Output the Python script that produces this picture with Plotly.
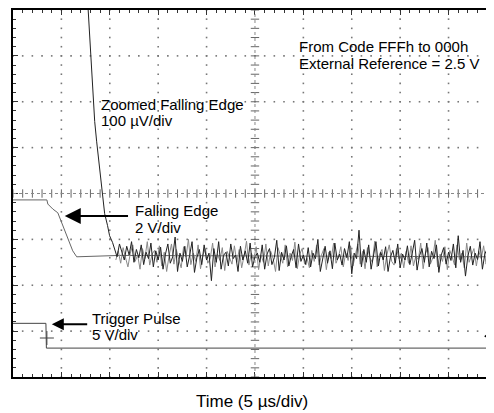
import numpy as np
import plotly.graph_objects as go

# ---------------- data (x in microseconds, y in screen divisions) ----------------
trigger_t = [0.0, 3.40, 3.45, 49.5]
trigger_v = [1.17, 1.17, 0.63, 0.63]

edge_t = [0.0, 3.50, 3.60, 4.12, 4.63, 6.17, 6.58, 11.0, 49.5]
edge_v = [3.86, 3.86, 3.77, 3.66, 3.58, 2.75, 2.62, 2.65, 2.62]

zoom_edge_t = [7.72, 8.44, 8.64, 8.95, 9.16, 9.47, 9.77, 9.98, 10.29]
zoom_edge_v = [8.17, 5.57, 5.14, 4.49, 4.05, 3.56, 3.30, 3.08, 2.93]

noise_start = 10.5
noise_end = 49.5
noise_v = [
    2.80, 2.62, 2.90, 2.70, 2.55, 2.85, 2.66, 2.95, 2.50, 2.78, 2.60, 2.88, 2.45, 2.72, 2.58, 2.92, 2.40, 2.75, 2.55, 2.83,
    2.35, 2.68, 2.90, 2.48, 2.62, 3.05, 2.30, 2.70, 2.52, 2.85, 2.40, 2.65, 2.95, 2.28, 2.60, 2.78, 2.45, 2.88, 2.55, 2.70,
    2.10, 2.80, 2.50, 2.95, 2.35, 2.65, 2.72, 2.42, 2.90, 2.58, 2.66, 2.30, 2.85, 2.55, 2.75, 2.48, 2.92, 2.40, 2.62, 2.70,
    2.50, 2.88, 2.35, 2.68, 2.80, 2.45, 2.60, 2.98, 2.32, 2.72, 2.55, 2.86, 2.42, 2.64, 2.78, 2.38, 2.90, 2.52, 2.66, 2.45,
    2.82, 2.40, 2.70, 2.58, 3.00, 2.30, 2.62, 2.85, 2.48, 2.75, 2.36, 2.92, 2.55, 2.68, 2.44, 2.80, 2.60, 2.95, 2.25, 2.70,
    2.58, 3.20, 2.40, 2.78, 2.50, 2.88, 2.35, 2.66, 2.95, 2.42, 2.72, 2.55, 2.84, 2.30, 2.62, 2.76, 2.48, 2.90, 2.38, 2.68,
    2.55, 2.86, 2.45, 2.70, 2.98, 2.33, 2.64, 2.80, 2.50, 2.92, 2.40, 2.74, 2.58, 2.88, 2.28, 2.66, 2.82, 2.46, 2.72, 2.54,
    2.90, 2.38, 3.08, 2.50, 2.76, 2.20, 2.64, 2.85, 2.44, 2.70, 2.56, 2.95, 2.35, 2.68, 2.80, 2.48, 2.62,
]

gray_start = 10.625
gray_end = 49.375
gray_noise_v = [
    2.55, 2.75, 2.48, 2.82, 2.60, 2.40, 2.70, 2.88, 2.52, 2.66, 2.35, 2.80, 2.58, 2.95, 2.44, 2.68, 2.76, 2.50, 2.86, 2.42,
    2.72, 2.30, 2.64, 2.90, 2.46, 2.78, 2.56, 2.38, 2.84, 2.62, 3.00, 2.45, 2.70, 2.52, 2.88, 2.36, 2.66, 2.80, 2.48, 2.58,
    2.92, 2.40, 2.68, 2.54, 2.82, 2.32, 2.74, 2.60, 2.46, 2.86, 2.50, 2.78, 2.38, 2.64, 2.96, 2.44, 2.70, 2.56, 2.84, 2.34,
    2.66, 2.50, 2.90, 2.42, 2.74, 2.58, 2.30, 2.82, 2.62, 2.48, 2.88, 2.40, 2.70, 2.54, 2.94, 2.36, 2.68, 2.80, 2.46, 2.60,
    2.38, 2.76, 2.52, 2.88, 2.44, 2.66, 2.80, 2.34, 2.72, 2.58, 2.92, 2.48, 2.62, 2.84, 2.40, 2.70, 2.54, 2.86, 2.42, 2.64,
    2.90, 2.46, 2.74, 2.36, 2.82, 2.60, 2.50, 2.96, 2.40, 2.68, 2.78, 2.32, 2.66, 2.88, 2.52, 2.44, 2.80, 2.58, 2.70, 2.38,
    2.74, 2.48, 2.86, 2.42, 2.64, 2.56, 2.92, 2.36, 2.70, 2.82, 2.46, 2.60, 2.98, 2.40, 2.68, 2.52, 2.84, 2.34, 2.76, 2.62,
    2.44, 2.88, 2.56, 2.70, 2.38, 2.92, 2.50, 2.66, 2.80, 2.42, 2.74, 2.58, 2.86, 2.46, 2.68, 2.60,
]

trig_level_t = [49.35]
trig_level_v = [0.89]
channel_mark_t = [-0.3, -0.3]
channel_mark_v = [2.62, 0.63]
trig_cursor_t = [3.5]
trig_cursor_v = [0.85]

labels = {
    "zoom1": "Zoomed Falling Edge",
    "zoom2": "100 \u00b5V/div",
    "code1": "From Code FFFh to 000h",
    "code2": "External Reference = 2.5 V",
    "fall1": "Falling Edge",
    "fall2": "2 V/div",
    "trig1": "Trigger Pulse",
    "trig2": "5 V/div",
    "xlabel": "Time (5 \u00b5s/div)",
}

X_MAX = 49.49
Y_MAX = 8.0
FONT = "Liberation Sans, Arial, sans-serif"

fig = go.Figure()

# ---------------- graticule ----------------
gx, gy = [], []
for xv in range(5, 50, 5):
    if xv == 25:
        continue
    for j in range(0, 41):
        gx.append(xv); gy.append(j * 0.2)
for yv in range(1, 8):
    if yv == 4:
        continue
    for k in range(0, 50):
        gx.append(k); gy.append(yv)
fig.add_trace(go.Scatter(x=gx, y=gy, mode="markers", hoverinfo="skip",
                         marker=dict(symbol="square", size=1.6, color="#777", line=dict(width=0)),
                         showlegend=False))
fig.add_shape(type="line", x0=0, x1=X_MAX, y0=4, y1=4, line=dict(color="#888", width=1, dash="dot"))
fig.add_shape(type="line", x0=25, x1=25, y0=0, y1=Y_MAX, line=dict(color="#888", width=1, dash="dot"))
fig.add_trace(go.Scatter(x=list(range(0, 50)), y=[4] * 50, mode="markers", hoverinfo="skip",
                         marker=dict(symbol="line-ns-open", size=6, color="#666", line=dict(color="#666", width=1)),
                         showlegend=False))
fig.add_trace(go.Scatter(x=[25] * 41, y=[j * 0.2 for j in range(41)], mode="markers", hoverinfo="skip",
                         marker=dict(symbol="line-ew-open", size=6, color="#666", line=dict(color="#666", width=1)),
                         showlegend=False))

# ---------------- traces ----------------
fig.add_trace(go.Scatter(x=trigger_t, y=trigger_v, mode="lines",
                         line=dict(color="#444", width=1), showlegend=False))
fig.add_trace(go.Scatter(x=edge_t, y=edge_v, mode="lines",
                         line=dict(color="#666", width=1), showlegend=False))
gray_t = np.linspace(gray_start, gray_end, len(gray_noise_v))
fig.add_trace(go.Scatter(x=gray_t, y=gray_noise_v, mode="lines",
                         line=dict(color="#8a8a8a", width=1), showlegend=False))
noise_t = np.linspace(noise_start, noise_end, len(noise_v))
fig.add_trace(go.Scatter(x=zoom_edge_t + list(noise_t), y=zoom_edge_v + noise_v, mode="lines",
                         line=dict(color="#222", width=1), showlegend=False))

fig.add_trace(go.Scatter(x=trig_level_t, y=trig_level_v, mode="markers", cliponaxis=False,
                         marker=dict(symbol="triangle-left", size=13, color="black"), showlegend=False))
fig.add_trace(go.Scatter(x=channel_mark_t, y=channel_mark_v, mode="markers", cliponaxis=False,
                         marker=dict(symbol="triangle-right", size=5, color="#333"), showlegend=False))
fig.add_trace(go.Scatter(x=trig_cursor_t, y=trig_cursor_v, mode="markers",
                         marker=dict(symbol="cross-thin-open", size=10, color="#444",
                                     line=dict(color="#444", width=1)),
                         showlegend=False))

# ---------------- annotations ----------------
def txt(x, y, s, size=15):
    fig.add_annotation(x=x, y=y, xref="x", yref="y", text=s, showarrow=False,
                       xanchor="left", yanchor="middle",
                       font=dict(family=FONT, size=size, color="black"))

txt(8.85, 5.94, labels["zoom1"])
txt(8.85, 5.60, labels["zoom2"])
txt(29.3, 7.20, labels["code1"])
txt(29.3, 6.84, labels["code2"])
txt(12.35, 3.62, labels["fall1"])
txt(12.35, 3.26, labels["fall2"])
txt(7.95, 1.28, labels["trig1"])
txt(7.95, 0.92, labels["trig2"])

fig.add_annotation(x=5.35, y=3.51, ax=12.04, ay=3.51, xref="x", yref="y", axref="x", ayref="y",
                   text="", showarrow=True, arrowhead=2, arrowsize=1.6, arrowwidth=2,
                   arrowcolor="black", standoff=0)
fig.add_annotation(x=4.01, y=1.15, ax=7.82, ay=1.15, xref="x", yref="y", axref="x", ayref="y",
                   text="", showarrow=True, arrowhead=2, arrowsize=1.2, arrowwidth=2,
                   arrowcolor="black", standoff=0)

fig.add_annotation(x=24.7, y=-0.068, xref="x", yref="paper", text=labels["xlabel"], showarrow=False,
                   xanchor="center", yanchor="middle", font=dict(family=FONT, size=17, color="black"))

# ---------------- layout ----------------
# the page body has an 8px default margin, so the figure is sized to fill the window from there
fig.update_layout(
    width=486, height=405,
    margin=dict(l=5, r=0, t=0, b=36),
    paper_bgcolor="white", plot_bgcolor="white",
    showlegend=False,
    xaxis=dict(range=[0, X_MAX], showgrid=False, zeroline=False, showticklabels=False,
               showline=True, linecolor="black", linewidth=1.5, mirror="allticks",
               ticks="inside", tick0=0, dtick=5, ticklen=5, tickcolor="#333",
               minor=dict(ticks="inside", dtick=1, ticklen=3, tickcolor="#333", showgrid=False),
               fixedrange=True),
    yaxis=dict(range=[0, Y_MAX], showgrid=False, zeroline=False, showticklabels=False,
               showline=True, linecolor="black", linewidth=1.5, mirror="allticks",
               ticks="inside", tick0=0, dtick=1, ticklen=5, tickcolor="#333",
               minor=dict(ticks="inside", dtick=0.2, ticklen=3, tickcolor="#333", showgrid=False),
               fixedrange=True),
)

fig.write_html("out.html")
